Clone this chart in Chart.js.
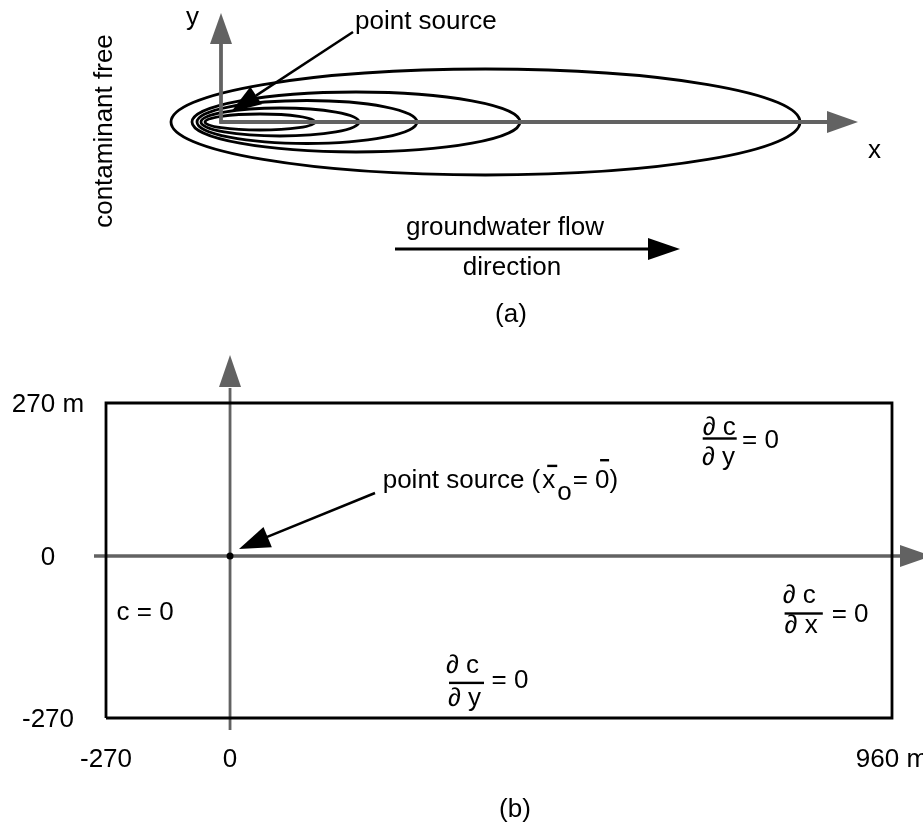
<!DOCTYPE html>
<html>
<head>
<meta charset="utf-8">
<script src="https://cdn.jsdelivr.net/npm/chart.js@4.4.1/dist/chart.umd.min.js"></script>
<style>
html,body{margin:0;padding:0;background:#fff;}
#wrap{position:relative;width:923px;height:823px;overflow:hidden;background:#fff;}
#pa{position:absolute;left:0;top:0;width:923px;height:330px;}
#pb{position:absolute;left:0;top:330px;width:923px;height:493px;}
</style>
</head>
<body>
<div id="wrap">
  <div id="pa"><canvas id="ca"></canvas></div>
  <div id="pb"><canvas id="cb"></canvas></div>
</div>
<script>
// ---------- DATA ----------
// Panel (a): plume contours around a point source at the origin (schematic distance units)
const plumeBack      = [-16, -20, -24, -29, -50];   // upstream end of each contour
const plumeFront     = [94, 138, 196, 299, 579];    // downstream end of each contour
const plumeHalfWidth = [8, 14, 21.5, 30, 53];       // half width of each contour
const sourceA = {x: 0, y: 0};

// Panel (b): model domain (m)
const domainX = [-270, 960];
const domainY = [-270, 270];
const xTickValues = [-270, 0, 960];
const xTickLabels = ['-270', '0', '960 m'];
const yTickValues = [270, 0, -270];
const yTickLabels = ['270 m', '0', '-270'];
const sourceB = {x: 0, y: 0};

// ---------- STYLE ----------
const FONT = "26px 'Liberation Sans', Arial, Helvetica, sans-serif";
const GRAY = '#626262';

// Schematic (not-to-scale) axis: piecewise linear between tick knots
const schematicKnots = {
  x: {values: xTickValues.slice().sort((a,b)=>a-b), frac: [0, 0.1578, 1]},
  y: {values: yTickValues.slice().sort((a,b)=>a-b), frac: [0, 0.5143, 1]}
};
class SchematicScale extends Chart.LinearScale {
  _frac(v) {
    const k = schematicKnots[this.axis];
    const vs = k.values, fs = k.frac;
    let i = 0;
    while (i < vs.length - 2 && v > vs[i + 1]) i++;
    return fs[i] + (v - vs[i]) / (vs[i + 1] - vs[i]) * (fs[i + 1] - fs[i]);
  }
  getPixelForValue(v) {
    const f = this._frac(v);
    return this.isHorizontal() ? this.left + f * this.width : this.bottom - f * this.height;
  }
  getValueForPixel(p) {
    const k = schematicKnots[this.axis];
    const f = this.isHorizontal() ? (p - this.left) / this.width : (this.bottom - p) / this.height;
    const vs = k.values, fs = k.frac;
    let i = 0;
    while (i < fs.length - 2 && f > fs[i + 1]) i++;
    return vs[i] + (f - fs[i]) / (fs[i + 1] - fs[i]) * (vs[i + 1] - vs[i]);
  }
}
SchematicScale.id = 'schematic';
SchematicScale.defaults = Chart.LinearScale.defaults;
Chart.register(SchematicScale);

function arrowHead(ctx, tx, ty, dx, dy, len, hw, color) {
  const L = Math.hypot(dx, dy); dx /= L; dy /= L;
  const bx = tx - dx * len, by = ty - dy * len;
  ctx.beginPath();
  ctx.moveTo(tx, ty);
  ctx.lineTo(bx - dy * hw, by + dx * hw);
  ctx.lineTo(bx + dy * hw, by - dx * hw);
  ctx.closePath();
  ctx.fillStyle = color;
  ctx.fill();
}
function line(ctx, x1, y1, x2, y2) {
  ctx.beginPath(); ctx.moveTo(x1, y1); ctx.lineTo(x2, y2); ctx.stroke();
}
function text(ctx, s, x, y, align) {
  ctx.textAlign = align || 'left';
  ctx.textBaseline = 'alphabetic';
  ctx.fillText(s, x, y);
}

const baseOpts = {
  responsive: true,
  maintainAspectRatio: false,
  animation: false,
  events: [],
  plugins: {legend: {display: false}, tooltip: {enabled: false}, title: {display: false}}
};

// ---------- PANEL (a) ----------
const panelA = {
  id: 'panelA',
  afterDatasetsDraw(chart) {
    const ctx = chart.ctx, xs = chart.scales.x, ys = chart.scales.y;
    const ox = xs.getPixelForValue(sourceA.x), oy = ys.getPixelForValue(sourceA.y);
    ctx.save();
    // plume contours
    ctx.strokeStyle = '#000'; ctx.lineWidth = 2.8;
    for (let i = 0; i < plumeFront.length; i++) {
      const cx = xs.getPixelForValue((plumeBack[i] + plumeFront[i]) / 2);
      const rx = xs.getPixelForValue(plumeFront[i]) - cx;
      const ry = oy - ys.getPixelForValue(plumeHalfWidth[i]);
      ctx.beginPath(); ctx.ellipse(cx, oy, rx, ry, 0, 0, Math.PI * 2); ctx.stroke();
    }
    // axes
    ctx.strokeStyle = GRAY; ctx.lineWidth = 3.8;
    line(ctx, ox, oy + 1.5, ox, oy - 80);
    arrowHead(ctx, ox, oy - 109, 0, -1, 31, 11, GRAY);
    line(ctx, ox - 1.5, oy, ox + 608, oy);
    arrowHead(ctx, ox + 637, oy, 1, 0, 31, 11, GRAY);
    // point source leader
    ctx.strokeStyle = '#000'; ctx.lineWidth = 2.5;
    line(ctx, 353, 32, 256, 95.6);
    arrowHead(ctx, 231, 112, -122, 80, 30, 10.5, '#000');
    // flow direction arrow
    ctx.lineWidth = 2.8;
    line(ctx, 395, 249, 652, 249);
    arrowHead(ctx, 680, 249, 1, 0, 32, 11, '#000');
    // texts
    ctx.fillStyle = '#000'; ctx.font = FONT;
    text(ctx, 'y', 186, 25);
    text(ctx, 'x', 868, 158);
    text(ctx, 'point source', 355, 29);
    text(ctx, 'groundwater flow', 505, 235, 'center');
    text(ctx, 'direction', 512, 275, 'center');
    text(ctx, '(a)', 511, 322, 'center');
    ctx.save();
    ctx.translate(111.5, 131); ctx.rotate(-Math.PI / 2);
    text(ctx, 'contaminant free', 0, 0, 'center');
    ctx.restore();
    ctx.restore();
  }
};

new Chart(document.getElementById('ca'), {
  type: 'scatter',
  data: {datasets: [{data: [sourceA], pointRadius: 0, pointHoverRadius: 0}]},
  options: Object.assign({}, baseOpts, {
    layout: {padding: 0},
    scales: {
      x: {type: 'linear', display: false, min: -221, max: 702},
      y: {type: 'linear', display: false, min: -208, max: 122}
    }
  }),
  plugins: [panelA]
});

// ---------- PANEL (b) ----------
const OFF = 330; // canvas top offset for annotation placement
function frac(ctx, f) {
  text(ctx, f.num, f.nx, f.nb - OFF);
  ctx.fillRect(f.bx1, f.by - OFF - 1, f.bx2 - f.bx1, 2.4);
  text(ctx, f.den, f.dx, f.db - OFF);
  text(ctx, '= 0', f.rx, f.rb - OFF);
}
const panelB = {
  id: 'panelB',
  beforeDatasetsDraw(chart) {
    const ctx = chart.ctx, xs = chart.scales.x, ys = chart.scales.y, ca = chart.chartArea;
    const ox = xs.getPixelForValue(0), oy = ys.getPixelForValue(0);
    ctx.save();
    ctx.strokeStyle = GRAY;
    ctx.lineWidth = 2.8;
    line(ctx, ox, ca.bottom + 12, ox, ca.top - 15);
    arrowHead(ctx, ox, ca.top - 48, 0, -1, 32, 11, GRAY);
    ctx.lineWidth = 3.4;
    line(ctx, ca.left - 12, oy, ca.right + 10, oy);
    arrowHead(ctx, ca.right + 40, oy, 1, 0, 32, 11, GRAY);
    ctx.restore();
  },
  afterDraw(chart) {
    const ctx = chart.ctx, xs = chart.scales.x, ys = chart.scales.y, ca = chart.chartArea;
    ctx.save();
    ctx.fillStyle = '#000'; ctx.font = FONT;
    // tick labels
    yTickValues.forEach((v, i) => text(ctx, yTickLabels[i], 48, ys.getPixelForValue(v) + 9, 'center'));
    xTickValues.forEach((v, i) => text(ctx, xTickLabels[i], xs.getPixelForValue(v), ca.bottom + 49, 'center'));
    // boundary conditions
    text(ctx, 'c = 0', 116.5, 620 - OFF);
    frac(ctx, {num: '∂ c', nx: 702.7, nb: 435, bx1: 702.7, bx2: 736.7, by: 438.3, den: '∂ y', dx: 702, db: 465, rx: 742, rb: 448});
    frac(ctx, {num: '∂ c', nx: 446, nb: 673, bx1: 449, bx2: 484, by: 682.7, den: '∂ y', dx: 448, db: 706, rx: 491.5, rb: 688});
    frac(ctx, {num: '∂ c', nx: 782.8, nb: 603, bx1: 784.6, bx2: 822.8, by: 613.3, den: '∂ x', dx: 784.6, db: 633, rx: 831.7, rb: 621.5});
    // point source label
    const y0 = 488 - OFF;
    let x = 382.7;
    text(ctx, 'point source (', x, y0);
    x += ctx.measureText('point source (').width + 2;
    text(ctx, 'x', x, y0);
    x += ctx.measureText('x').width;
    const xEnd = x;
    text(ctx, 'o', x + 2, y0 + 12);
    x += 2 + ctx.measureText('o').width + 1;
    text(ctx, '= 0)', x, y0);
    const zeroX = x + ctx.measureText('= ').width;
    ctx.fillRect(xEnd - 8, 465.7 - OFF - 1, 10, 2.4);
    ctx.fillRect(zeroX + 5, 460 - OFF - 1, 9, 2.4);
    // leader
    ctx.strokeStyle = '#000'; ctx.lineWidth = 2.5;
    line(ctx, 375, 493 - OFF, 266, 537.3 - OFF);
    arrowHead(ctx, 239, 549 - OFF, -136, 56, 31, 11, '#000');
    text(ctx, '(b)', 515, 816.5 - OFF, 'center');
    ctx.restore();
  }
};

new Chart(document.getElementById('cb'), {
  type: 'scatter',
  data: {datasets: [
    {
      data: [
        {x: domainX[0], y: domainY[0]}, {x: domainX[1], y: domainY[0]},
        {x: domainX[1], y: domainY[1]}, {x: domainX[0], y: domainY[1]},
        {x: domainX[0], y: domainY[0]}
      ],
      showLine: true, fill: false, borderColor: '#000', borderWidth: 2.8,
      pointRadius: 0, pointHoverRadius: 0, tension: 0, borderJoinStyle: 'miter', clip: 4
    },
    {data: [sourceB], pointRadius: 3.5, pointBackgroundColor: '#000', pointBorderWidth: 0, clip: 6}
  ]},
  options: Object.assign({}, baseOpts, {
    layout: {padding: {left: 106, right: 31, top: 73, bottom: 105}},
    scales: {
      x: {type: 'schematic', display: false, min: domainX[0], max: domainX[1]},
      y: {type: 'schematic', display: false, min: domainY[0], max: domainY[1]}
    }
  }),
  plugins: [panelB]
});
</script>
</body>
</html>
